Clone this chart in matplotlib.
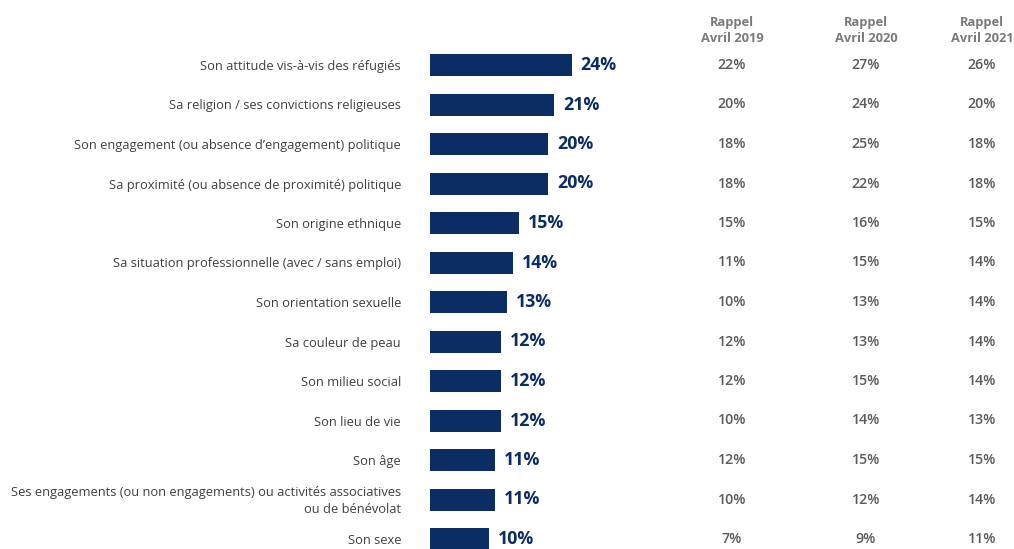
import matplotlib
matplotlib.use("Agg")
import matplotlib.pyplot as plt
import matplotlib.transforms as mtransforms

categories = [
    "Son attitude vis-à-vis des réfugiés",
    "Sa religion / ses convictions religieuses",
    "Son engagement (ou absence d\u2019engagement) politique",
    "Sa proximité (ou absence de proximité) politique",
    "Son origine ethnique",
    "Sa situation professionnelle (avec / sans emploi)",
    "Son orientation sexuelle",
    "Sa couleur de peau",
    "Son milieu social",
    "Son lieu de vie",
    "Son âge",
    "Ses engagements (ou non engagements) ou activités associatives\nou de bénévolat",
    "Son sexe",
]
values_2022 = [24, 21, 20, 20, 15, 14, 13, 12, 12, 12, 11, 11, 10]
rappel_2019 = [22, 20, 18, 18, 15, 11, 10, 12, 12, 10, 12, 10, 7]
rappel_2020 = [27, 24, 25, 22, 16, 15, 13, 13, 15, 14, 15, 12, 9]
rappel_2021 = [26, 20, 18, 18, 15, 14, 14, 14, 14, 13, 15, 14, 11]
column_headers = ["Rappel\nAvril 2019", "Rappel\nAvril 2020", "Rappel\nAvril 2021"]

plt.rcParams['font.family'] = ['Open Sans', 'DejaVu Sans']

W, H = 1014, 549
fig = plt.figure(figsize=(W / 100, H / 100), dpi=100)
x0 = 430
ax = fig.add_axes([x0 / W, 0, 1 - x0 / W, 1])
px_per_pct = 5.9
ax.set_xlim(0, (W - x0) / px_per_pct)
row_h = 39.5
first = 65
n = len(categories)
ax.set_ylim((H - first) / row_h, -first / row_h)

navy = "#0c2d63"
ypos = list(range(n))
ax.barh(ypos, values_2022, height=22 / row_h, color=navy)
for y, v in zip(ypos, values_2022):
    ax.annotate(f"{v}%", (v, y), xytext=(6.5, 0), textcoords="offset points",
                ha="left", va="center", fontsize=12.8, fontweight="bold", color=navy)

ax.set_yticks(ypos)
ax.set_yticklabels([])
ax.tick_params(axis="y", length=0)
ax.set_xticks([])
for s in ax.spines.values():
    s.set_visible(False)

label_offset = mtransforms.offset_copy(ax.transData, fig=fig, x=-29, y=-1.5, units="dots")
for y, cat in zip(ypos, categories):
    ax.text(0, y, cat, transform=label_offset, ha="right", va="center",
            fontsize=9.25, color="#404040", linespacing=1.4, multialignment="right")

col_x = [732, 866, 982]
trans = mtransforms.blended_transform_factory(fig.transFigure, ax.transData)
for cx, hdr, vals in zip(col_x, column_headers, [rappel_2019, rappel_2020, rappel_2021]):
    ax.text(cx / W, -0.87, hdr, transform=trans, ha="center", va="center",
            fontsize=9.3, fontweight="bold", color="#7a7a7a", linespacing=1.35)
    for y, v in zip(ypos, vals):
        ax.text(cx / W, y, f"{v}%", transform=trans, ha="center", va="center",
                fontsize=10.2, fontweight="semibold", color="#5a5a5a")

fig.savefig("out.png", dpi=100)
